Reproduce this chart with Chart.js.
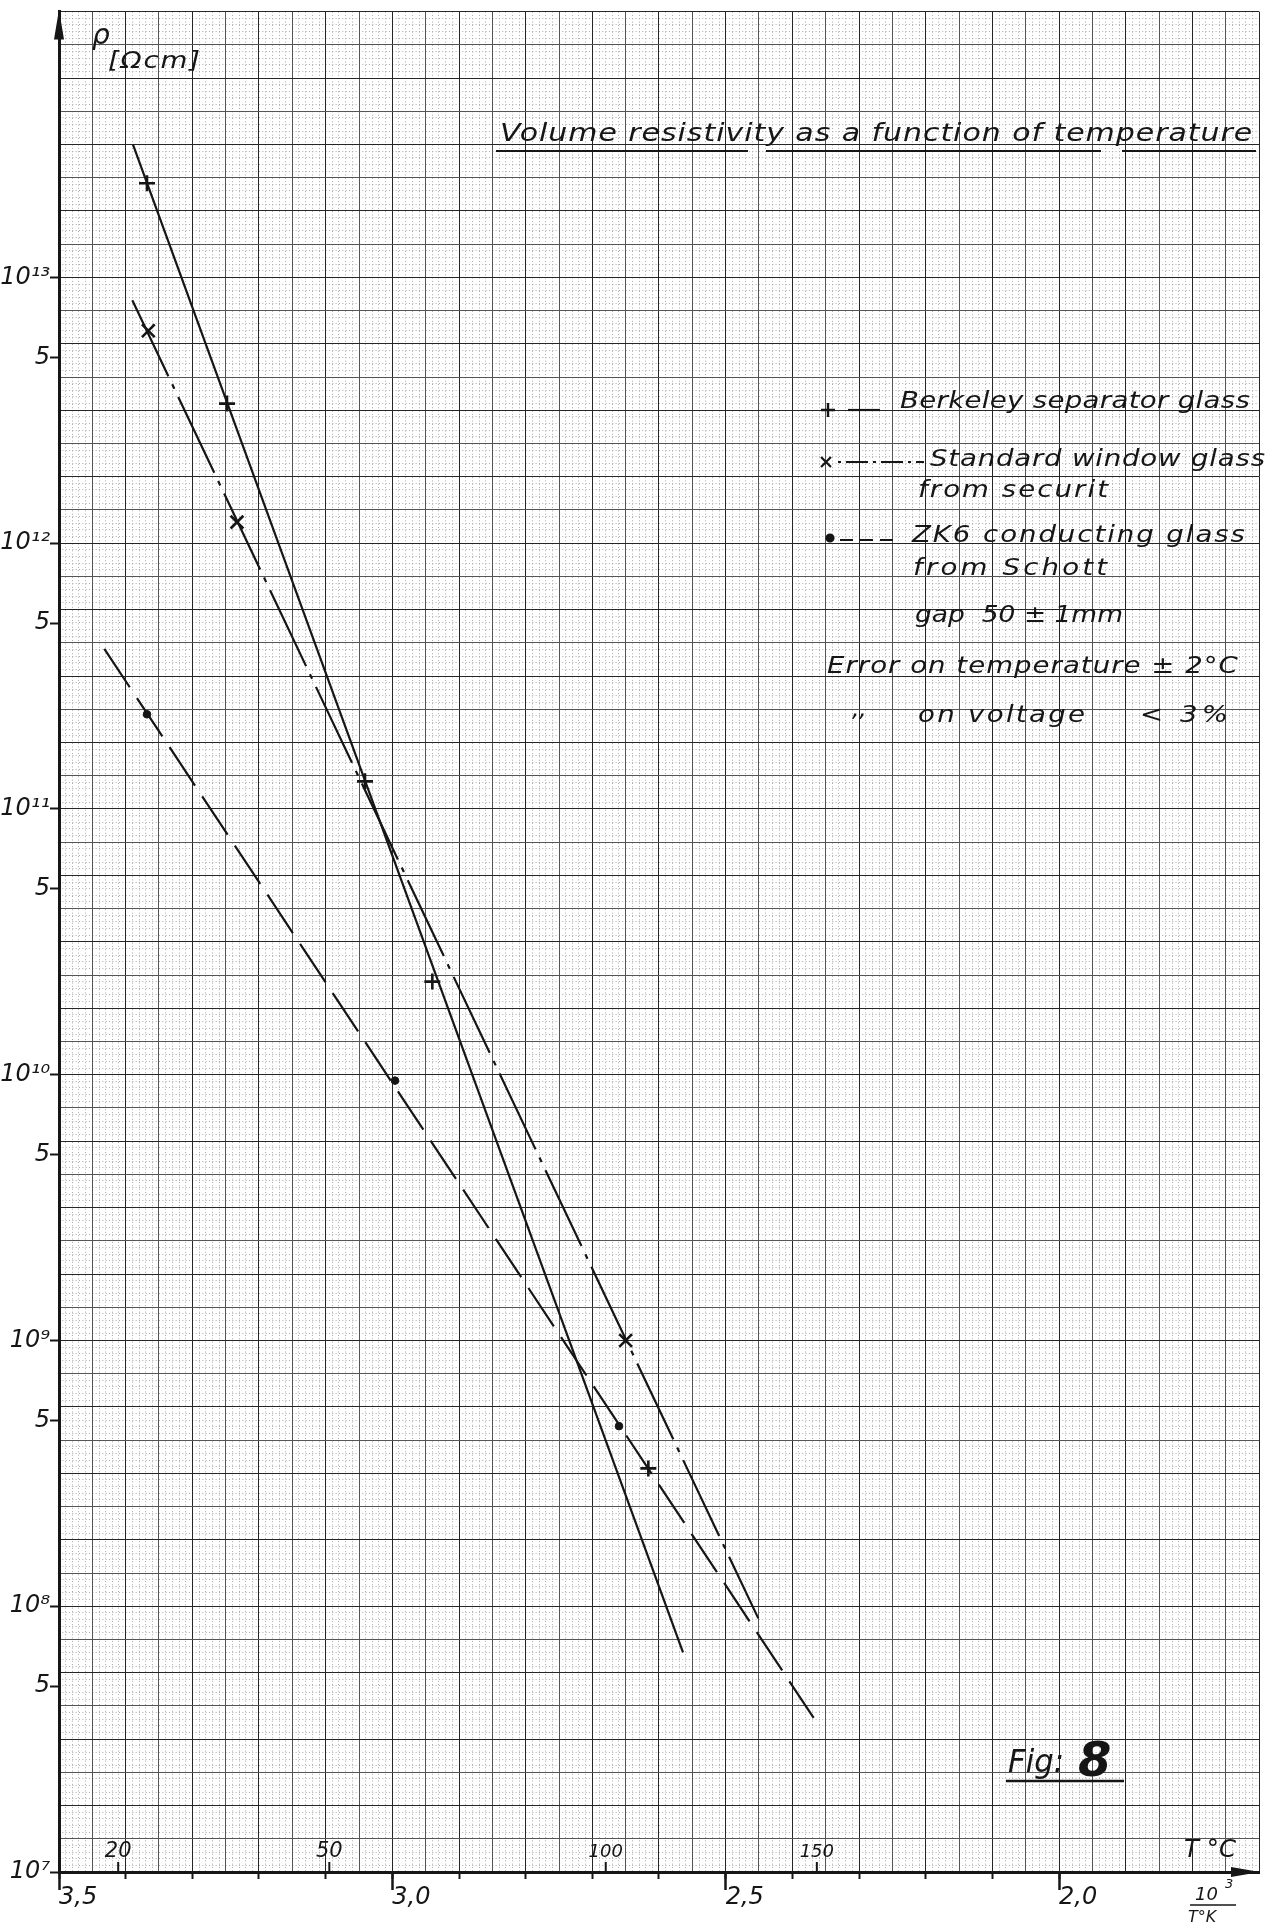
<!DOCTYPE html>
<html>
<head>
<meta charset="utf-8">
<title>Volume resistivity as a function of temperature</title>
<script src="https://cdn.jsdelivr.net/npm/chart.js@4.4.1/dist/chart.umd.min.js"></script>
<style>
  html, body { margin: 0; padding: 0; background: #fff; }
  #wrap { width: 1278px; height: 1924px; }
</style>
</head>
<body>
<div id="wrap"><canvas id="myChart" width="1278" height="1924"></canvas></div>
<script>
// x = 10^3 / T[K], y = volume resistivity rho [Ohm cm]

// Berkeley separator glass (+, solid line)
const berkeleyInvT = [3.368, 3.248, 3.041, 2.940, 2.616];
const berkeleyRho = [2.26e13, 3.35e12, 1.27e11, 2.24e10, 3.3e8];
const berkeleyFitInvT = [3.389, 2.564];
const berkeleyFitRho = [3.16e13, 6.7e7];

// Standard window glass from securit (x, dash-dot line)
const windowInvT = [3.366, 3.233, 2.650];
const windowRho = [6.3e12, 1.2e12, 1.0e9];
const windowFitInvT = [3.390, 2.451];
const windowFitRho = [8.2e12, 9.0e7];

// ZK6 conducting glass from Schott (dot, dashed line)
const zk6InvT = [3.368, 2.996, 2.660];
const zk6Rho = [2.27e11, 9.5e9, 4.76e8];
const zk6FitInvT = [3.432, 2.368];
const zk6FitRho = [4.0e11, 3.8e7];

// axis ticks
const invTTicks = [3.5, 3.4, 3.3, 3.2, 3.1, 3.0, 2.9, 2.8, 2.7, 2.6, 2.5, 2.4, 2.3, 2.2, 2.1, 2.0];
const invTLabelled = [3.5, 3.0, 2.5, 2.0];
const rhoTicks = [1e7, 5e7, 1e8, 5e8, 1e9, 5e9, 1e10, 5e10, 1e11, 5e11, 1e12, 5e12, 1e13];
const celsiusTicks = [20, 50, 100, 150];

const X_MIN = 1.7, X_MAX = 3.5, Y_MIN = 1e7, Y_MAX = 1e14;
const FONT = '"DejaVu Sans", "Liberation Sans", sans-serif';
const INK = '#161616';

// graph paper lines (not data, just the millimetre paper)
const paperMajorX = [], paperMinorX = [], paperMajorY = [], paperMinorY = [];
for (let k = 0; k <= 36; k++) paperMajorX.push(+(X_MIN + 0.05 * k).toFixed(2));
for (let k = 0; k <= 180; k++) if (k % 5) paperMinorX.push(+(X_MIN + 0.01 * k).toFixed(2));
for (let k = 0; k <= 56; k++) paperMajorY.push(Math.pow(10, 7 + 0.125 * k));
for (let k = 0; k <= 280; k++) if (k % 5) paperMinorY.push(Math.pow(10, 7 + 0.025 * k));

function pts(xs, ys) {
    return xs.map((x, i) => ({ x: x, y: ys[i] }));
}

function setTicks(list) {
    return scale => { scale.ticks = list.map(v => ({ value: v })); };
}

// helper axes only draw grid lines, they take no room
function flat(scale) {
    if (scale.isHorizontal()) scale.height = 0; else scale.width = 0;
    scale.paddingTop = scale.paddingBottom = scale.paddingLeft = scale.paddingRight = 0;
}

const SUP = '⁰¹²³⁴⁵⁶⁷⁸⁹';
function rhoLabel(v) {
    const e = Math.log10(v);
    if (Math.abs(e - Math.round(e)) < 1e-6) {
        return '10' + String(Math.round(e)).split('').map(d => SUP[+d]).join('');
    }
    return '5';
}

function italic(size, weight) {
    return `italic ${weight || 400} ${size}px ${FONT}`;
}

// lettering: widen the glyphs a bit to the width they had on the drawing
function drawText(ctx, str, x, y, size, width, weight) {
    ctx.font = italic(size, weight);
    let sx = 1, gap = 0;
    if (width) {
        const w = ctx.measureText(str).width;
        sx = Math.min(Math.max(width / w, 0.85), 1.2);
        gap = (width / sx - w) / Math.max(str.length - 1, 1);
    }
    ctx.save();
    ctx.translate(x, y);
    ctx.scale(sx, 1);
    ctx.letterSpacing = gap.toFixed(2) + 'px';
    ctx.fillText(str, 0, 0);
    ctx.restore();
}

function line(ctx, x1, y1, x2, y2, width, dash) {
    ctx.save();
    ctx.lineWidth = width;
    ctx.setLineDash(dash || []);
    ctx.beginPath();
    ctx.moveTo(x1, y1);
    ctx.lineTo(x2, y2);
    ctx.stroke();
    ctx.restore();
}

const paperNotes = {
    id: 'paperNotes',
    afterDraw(chart) {
        const { ctx, chartArea: area, scales } = chart;
        const xs = scales.x;
        ctx.save();
        ctx.fillStyle = INK;
        ctx.strokeStyle = INK;
        ctx.textBaseline = 'alphabetic';

        // arrow heads
        ctx.beginPath();
        ctx.moveTo(area.left, area.top - 2);
        ctx.lineTo(area.left - 5, area.top + 28);
        ctx.lineTo(area.left + 5, area.top + 28);
        ctx.closePath();
        ctx.fill();
        ctx.beginPath();
        ctx.moveTo(area.right + 1, area.bottom);
        ctx.lineTo(area.right - 28, area.bottom - 5);
        ctx.lineTo(area.right - 28, area.bottom + 5);
        ctx.closePath();
        ctx.fill();

        // T in degrees C along the bottom
        celsiusTicks.forEach(t => {
            const px = xs.getPixelForValue(1000 / (t + 273.15));
            line(ctx, px, area.bottom - 10, px, area.bottom, 2);
            ctx.textAlign = 'center';
            drawText(ctx, String(t), px, area.bottom - 15, t >= 100 ? 18 : 21);
        });
        ctx.textAlign = 'left';
        drawText(ctx, 'T °C', 1184, 1857, 24, 52);
        drawText(ctx, '10', 1195, 1900, 18);
        drawText(ctx, '3', 1225, 1888, 13);
        line(ctx, 1190, 1905, 1236, 1905, 1.6);
        drawText(ctx, 'T°K', 1188, 1922, 16);

        // y axis name
        drawText(ctx, 'ρ', 92, 44, 28);
        drawText(ctx, '[Ωcm]', 108, 68, 23, 92);

        // title
        drawText(ctx, 'Volume resistivity as a function of temperature', 500, 141, 25, 752);
        line(ctx, 496, 151, 748, 151, 2);
        line(ctx, 766, 151, 1101, 151, 2);
        line(ctx, 1122, 151, 1256, 151, 2);

        // legend
        const drawPoint = Chart.helpers.drawPoint;
        ctx.lineWidth = 2.4;
        drawPoint(ctx, { pointStyle: 'cross', radius: 7, borderWidth: 2.4 }, 828, 410);
        line(ctx, 848, 410, 880, 410, 2.2);
        drawText(ctx, 'Berkeley separator glass', 900, 408, 23, 350);

        ctx.lineWidth = 2.2;
        drawPoint(ctx, { pointStyle: 'crossRot', radius: 7, borderWidth: 2.2 }, 826, 462);
        line(ctx, 838, 462, 924, 462, 2.2, [3, 5, 22, 5]);
        drawText(ctx, 'Standard window glass', 930, 466, 23, 335);
        drawText(ctx, 'from securit', 918, 497, 23, 190);

        drawPoint(ctx, { pointStyle: 'circle', radius: 3.5, borderWidth: 1 }, 830, 538);
        line(ctx, 840, 540, 898, 540, 2.2, [13, 7]);
        drawText(ctx, 'ZK6 conducting glass', 912, 542, 23, 333);
        drawText(ctx, 'from Schott', 913, 575, 23, 194);
        drawText(ctx, 'gap  50 ± 1mm', 915, 622, 23, 208);
        drawText(ctx, 'Error on temperature ± 2°C', 827, 673, 23, 411);
        drawText(ctx, ',,', 852, 716, 23);
        drawText(ctx, 'on voltage', 918, 722, 23, 167);
        drawText(ctx, '< 3%', 1140, 722, 23, 88);

        // figure number
        drawText(ctx, 'Fig:', 1008, 1772, 32, 56);
        drawText(ctx, '8', 1078, 1776, 48, null, 700);
        line(ctx, 1006, 1781, 1124, 1781, 2.4);

        ctx.restore();
    }
};

const tickFont = { family: FONT, size: 24, style: 'italic' };

// hidden-label axis that only paints paper lines
function paperAxis(type, position, list, color, width, dash) {
    const lim = position === 'bottom' ? { min: X_MIN, max: X_MAX, reverse: true } : { min: Y_MIN, max: Y_MAX };
    return Object.assign({
        type: type,
        position: position,
        bounds: 'data',
        weight: 0,
        afterBuildTicks: setTicks(list),
        afterFit: flat,
        ticks: { display: false },
        grid: { drawTicks: false, color: color, lineWidth: width },
        border: { display: false, dash: dash || [] }
    }, lim);
}

const ctx = document.getElementById('myChart');

new Chart(ctx, {
    type: 'scatter',
    data: {
        datasets: [
            {
                label: 'Berkeley separator glass (fit)',
                data: pts(berkeleyFitInvT, berkeleyFitRho),
                showLine: true, pointRadius: 0,
                borderColor: INK, borderWidth: 2.2
            },
            {
                label: 'Standard window glass from securit (fit)',
                data: pts(windowFitInvT, windowFitRho),
                showLine: true, pointRadius: 0,
                borderColor: INK, borderWidth: 2.2,
                borderDash: [84, 9, 5, 9]
            },
            {
                label: 'ZK6 conducting glass from Schott (fit)',
                data: pts(zk6FitInvT, zk6FitRho),
                showLine: true, pointRadius: 0,
                borderColor: INK, borderWidth: 2.2,
                borderDash: [46, 13]
            },
            {
                label: 'Berkeley separator glass',
                data: pts(berkeleyInvT, berkeleyRho),
                showLine: false,
                pointStyle: 'cross', pointRadius: 8, pointBorderWidth: 2.6,
                pointBorderColor: INK, pointBackgroundColor: INK
            },
            {
                label: 'Standard window glass from securit',
                data: pts(windowInvT, windowRho),
                showLine: false,
                pointStyle: 'crossRot', pointRadius: 9, pointBorderWidth: 2.6,
                pointBorderColor: INK, pointBackgroundColor: INK
            },
            {
                label: 'ZK6 conducting glass from Schott',
                data: pts(zk6InvT, zk6Rho),
                showLine: false,
                pointStyle: 'circle', pointRadius: 3.8, pointBorderWidth: 1,
                pointBorderColor: INK, pointBackgroundColor: INK
            }
        ]
    },
    options: {
        responsive: false,
        animation: false,
        events: [],
        devicePixelRatio: 1,
        layout: { padding: { top: 10, right: 19, left: 0, bottom: 0 } },
        plugins: {
            legend: { display: false },
            tooltip: { enabled: false },
            title: { display: false }
        },
        scales: {
            x: {
                type: 'linear', position: 'bottom', reverse: true,
                min: X_MIN, max: X_MAX, bounds: 'data', weight: 1,
                afterBuildTicks: setTicks(invTTicks),
                afterFit: s => { s.height = 52; s.paddingLeft = s.paddingRight = 0; },
                grid: { drawOnChartArea: false, tickLength: 7, tickWidth: 2, tickColor: INK },
                border: { color: INK, width: 3 },
                ticks: {
                    autoSkip: false, maxRotation: 0, align: 'start', padding: 4,
                    color: INK, font: tickFont,
                    callback: v => invTLabelled.some(l => Math.abs(l - v) < 1e-6) ? v.toFixed(1).replace('.', ',') : ''
                }
            },
            y: {
                type: 'logarithmic', position: 'left',
                min: Y_MIN, max: Y_MAX, bounds: 'data', weight: 1,
                afterBuildTicks: setTicks(rhoTicks),
                afterFit: s => { s.width = 59; s.paddingTop = s.paddingBottom = 0; },
                grid: { drawOnChartArea: false, tickLength: 9, tickWidth: 2, tickColor: INK },
                border: { color: INK, width: 3 },
                ticks: {
                    autoSkip: false, padding: 0, color: INK, font: tickFont,
                    callback: v => rhoLabel(v)
                }
            },
            // longer ticks at 3,5 3,0 2,5 2,0
            xHalf: {
                type: 'linear', position: 'bottom', reverse: true,
                min: X_MIN, max: X_MAX, bounds: 'data', weight: 0,
                afterBuildTicks: setTicks(invTLabelled),
                afterFit: flat,
                ticks: { display: false },
                grid: { drawOnChartArea: false, tickLength: 18, tickWidth: 2.5, tickColor: INK },
                border: { display: false }
            },
            xDots: paperAxis('linear', 'bottom', paperMinorX, '#acacac', 1, [1, 2.325]),
            yDots: paperAxis('logarithmic', 'left', paperMinorY, '#acacac', 1, [1, 2.333]),
            xPaper: paperAxis('linear', 'bottom', paperMajorX,
                c => (Math.round(c.tick.value * 20) % 2 ? '#555' : '#262626'), 1),
            yPaper: paperAxis('logarithmic', 'left', paperMajorY,
                c => (c.index % 2 ? '#555' : '#262626'), 1)
        }
    },
    plugins: [paperNotes]
});
</script>
</body>
</html>
